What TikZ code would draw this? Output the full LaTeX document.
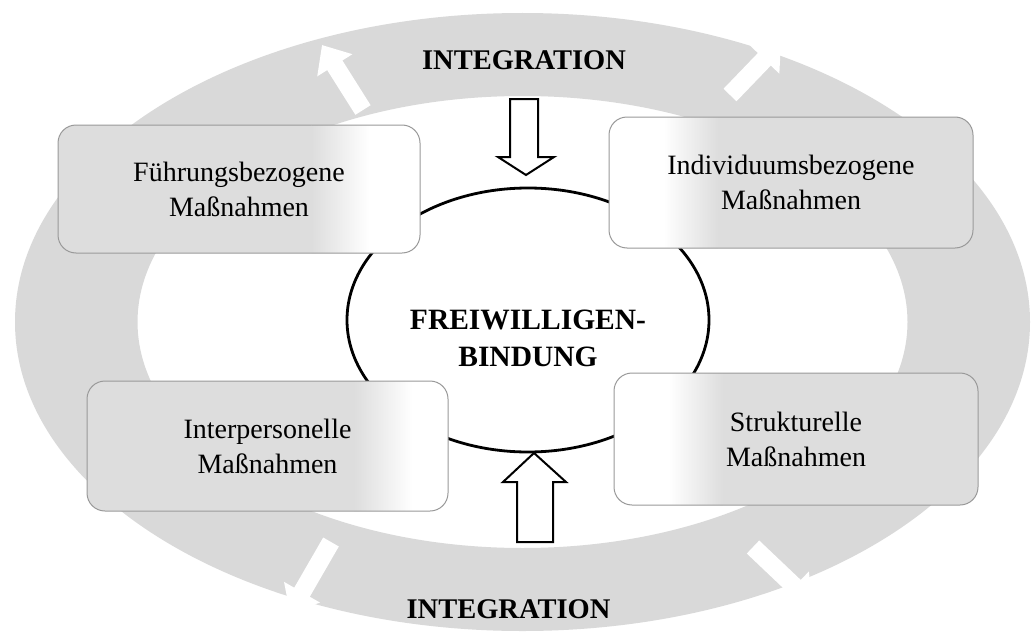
\documentclass[tikz,border=0pt]{standalone}
\usepackage{fontspec}
\setmainfont{Liberation Serif}
\usetikzlibrary{arrows.meta,shapes.geometric,calc}
\definecolor{ringgray}{RGB}{217,217,217}
\definecolor{boxgray}{RGB}{221,221,221}
\begin{document}
\begin{tikzpicture}[x=1pt,y=-1pt,
  mbox/.style={draw=black!40, line width=1pt, rounded corners=18pt, align=center,
    font=\fontsize{28}{35}\selectfont},
  greyL/.style 2 args={fill=white, path picture={
    \fill[boxgray, sharp corners] (path picture bounding box.north west) rectangle
      ($(path picture bounding box.south west)!#1!(path picture bounding box.south east)$);
    \shade[left color=boxgray, right color=white, sharp corners]
      ($(path picture bounding box.north west)!#1!(path picture bounding box.north east)$) rectangle
      ($(path picture bounding box.south west)!#2!(path picture bounding box.south east)$);}},
  greyR/.style 2 args={fill=white, path picture={
    \fill[boxgray, sharp corners] ($(path picture bounding box.north west)!#2!(path picture bounding box.north east)$)
      rectangle (path picture bounding box.south east);
    \shade[left color=white, right color=boxgray, sharp corners]
      ($(path picture bounding box.north west)!#1!(path picture bounding box.north east)$) rectangle
      ($(path picture bounding box.south west)!#2!(path picture bounding box.south east)$);}},
  ringarrow/.style={draw=white, line width=18pt, -{Triangle[width=40pt,length=24pt]}},
  blockarrow/.style={draw=black, fill=white, line width=2pt, line join=miter},
  bigtext/.style={font=\bfseries\fontsize{28.5}{37}\selectfont, align=center}]
\useasboundingbox[fill=white] (0,0) rectangle (1036,634);
% ring
\coordinate (rc) at (522.5,322);
\fill[ringgray, even odd rule] (rc) ellipse [x radius=507.5, y radius=309]
  (rc) ellipse [x radius=385, y radius=226];
% white arrows on the ring
\coordinate (tlA) at (363,110); \coordinate (tlB) at (322,45);
\coordinate (trA) at (730,95);  \coordinate (trB) at (781,42);
\coordinate (blA) at (331,542); \coordinate (blB) at (290,613);
\coordinate (brA) at (753,547); \coordinate (brB) at (812,603);
\draw[ringarrow] (tlA) -- (tlB);
\draw[ringarrow] (trA) -- (trB);
\draw[ringarrow] (blA) -- (blB);
\draw[ringarrow] (brA) -- (brB);
% central ellipse
\node[draw, line width=2.8pt, fill=white, ellipse, minimum width=362pt, minimum height=264pt] (core) at (528,320) {};
\node[bigtext, font=\bfseries\fontsize{29.5}{37}\selectfont] (ct) at (528,338.5) {FREIWILLIGEN-\\BINDUNG};
% block arrows
\draw[blockarrow] (510,99) -- (538,99) -- (538,157) -- (554,157) -- (526,175) -- (498,157) -- (510,157) -- cycle;
\draw[blockarrow] (517,542) -- (553,542) -- (553,482) -- (566,482) -- (534,453) -- (503,482) -- (517,482) -- cycle;
% boxes
\node[mbox, greyL={0.7}{0.86}, minimum width=362pt, minimum height=128pt] (fb) at (239,189) {Führungsbezogene\\Maßnahmen};
\node[mbox, greyR={0.15}{0.3}, minimum width=364pt, minimum height=131pt] (ib) at (791,182.5) {Individuumsbezogene\\Maßnahmen};
\node[mbox, greyL={0.74}{0.9}, minimum width=361pt, minimum height=130pt] (ip) at (267.5,446) {Interpersonelle\\Maßnahmen};
\node[mbox, greyR={0.15}{0.3}, minimum width=364pt, minimum height=132pt] (st) at (796,439) {Strukturelle\\Maßnahmen};
% labels
\node[bigtext, anchor=base] (intT) at (524,70) {INTEGRATION};
\node[bigtext, anchor=base] (intB) at (508.5,618) {INTEGRATION};
\end{tikzpicture}
\end{document}
